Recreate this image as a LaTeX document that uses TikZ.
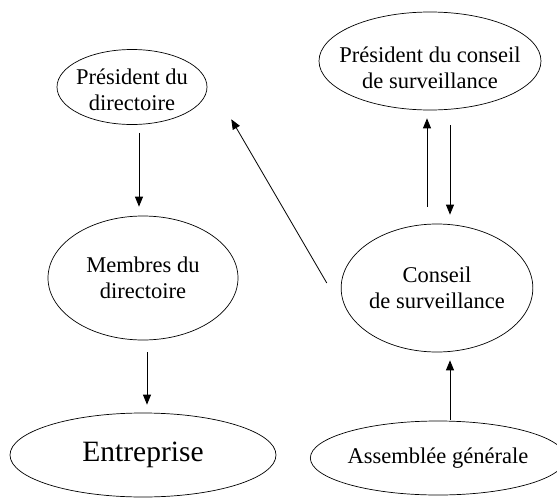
\documentclass[tikz,border=0pt]{standalone}
\usepackage{fontspec}
\setmainfont{Liberation Serif}
\usetikzlibrary{shapes.geometric,arrows.meta}
\tikzset{
  ell/.style={draw, ellipse, inner sep=0pt, align=center, line width=0.7pt,
    font=\fontsize{22.5}{26.5}\selectfont},
  txt/.style={inner sep=0pt, align=center, font=\fontsize{22.5}{25.5}\selectfont},
  arr/.style={-{Triangle[length=10pt,width=8pt]}, line width=0.8pt}
}
\begin{document}
\begin{tikzpicture}[x=1pt,y=1pt]
\useasboundingbox (0,0) rectangle (557,-498);
\node[ell, minimum width=150, minimum height=75] (p1) at (132,-87) {};
\node[txt] (p1t) at (132,-90) {Président du\\directoire};
\node[ell, minimum width=190, minimum height=124] (m) at (143,-278) {Membres du\\directoire};
\node[ell, minimum width=266, minimum height=84, font=\fontsize{29.5}{34}\selectfont] (e) at (143,-455) {Entreprise};
\node[ell, minimum width=222, minimum height=98] (p2) at (430,-61) {};
\node[txt] (p2t) at (430,-68) {Président du conseil\\de surveillance};
\node[ell, minimum width=190, minimum height=128] (c) at (437,-288) {Conseil\\de surveillance};
\node[ell, minimum width=236, minimum height=74] (a) at (438,-458) {Assemblée générale};
\draw[arr, shorten <=8pt, shorten >=9pt] ([xshift=7pt]p1.south) -- ([xshift=-4pt]m.north);
\draw[arr, shorten <=12pt, shorten >=8pt] ([xshift=4pt]m.south) -- ([xshift=4pt]e.north);
\draw[arr, shorten <=17pt, shorten >=8pt] ([xshift=-10pt]c.north) -- ([xshift=-3pt]p2.south);
\draw[arr, shorten <=15pt, shorten >=9pt] ([xshift=20pt]p2.south) -- ([xshift=13pt]c.north);
\draw[arr, shorten <=1pt, shorten >=8pt] ([xshift=12pt]a.north) -- ([xshift=13pt]c.south);
\draw[arr] ([xshift=-14pt,yshift=5pt]c.west) -- ([xshift=46pt,yshift=-5.5pt]p1.south east);
\end{tikzpicture}
\end{document}
